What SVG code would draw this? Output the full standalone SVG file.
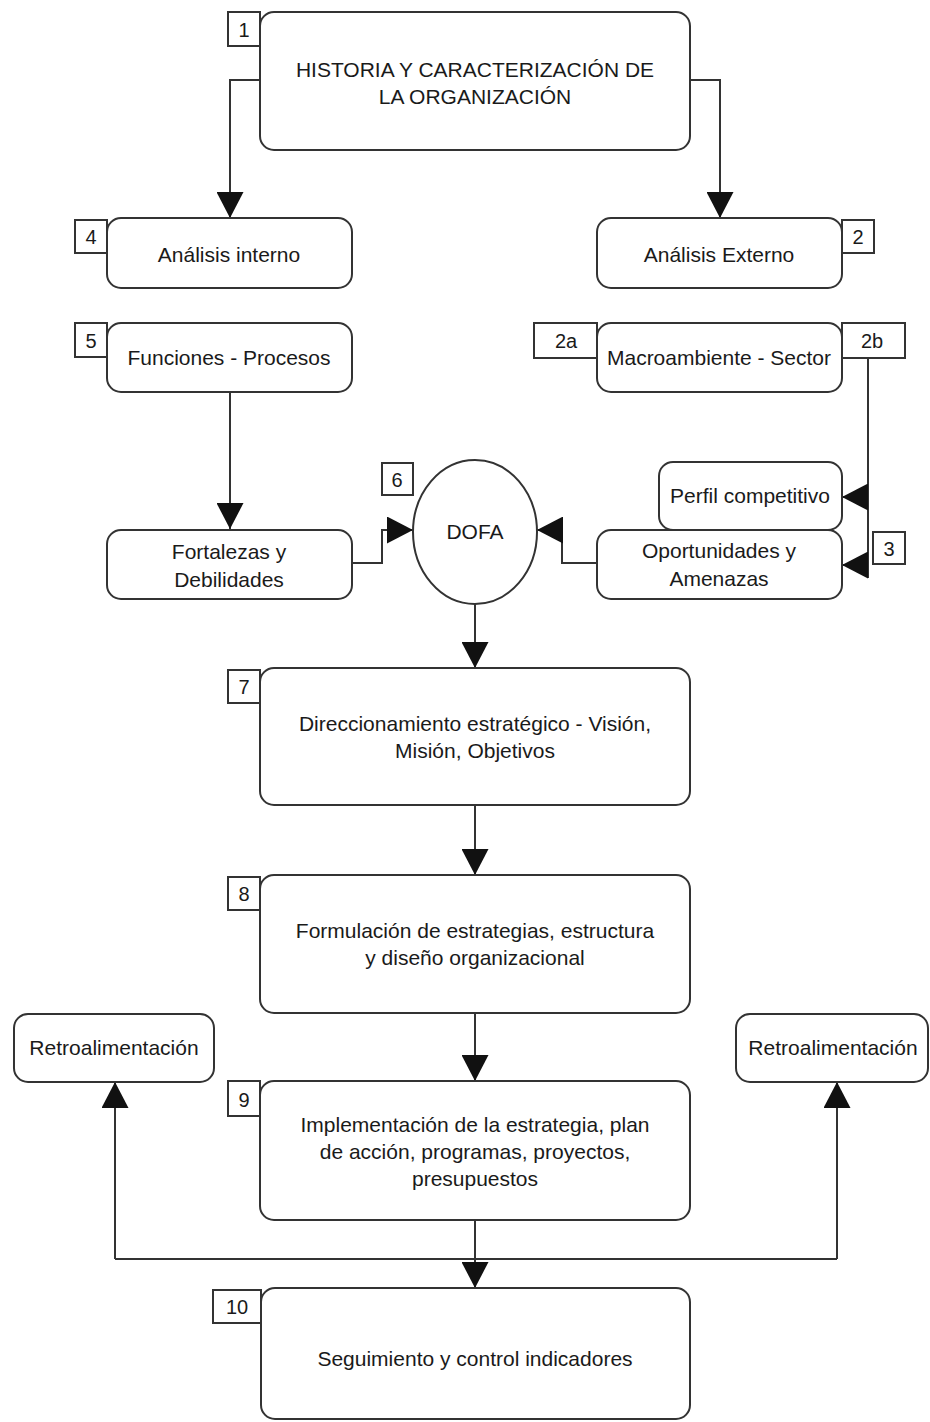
<svg xmlns="http://www.w3.org/2000/svg" width="930" height="1422" viewBox="0 0 930 1422">
  <style>
    .box { fill: #ffffff; stroke: #333333; stroke-width: 2; }
    .tag { fill: #ffffff; stroke: #333333; stroke-width: 2; }
    .txt { font-family: "Liberation Sans", Arial, sans-serif; font-size: 21px; fill: #1a1a1a; text-anchor: middle; }
    .num { font-family: "Liberation Sans", Arial, sans-serif; font-size: 20px; fill: #1a1a1a; text-anchor: middle; }
    .wire { fill: none; stroke: #333333; stroke-width: 2; }
  </style>
  <defs>
    <marker id="arrow" viewBox="0 0 26 27" refX="26" refY="13.5" markerWidth="26" markerHeight="27" markerUnits="userSpaceOnUse" orient="auto">
      <path d="M0,0 L26,13.5 L0,27 Z" fill="#111111"/>
    </marker>
  </defs>
  <rect width="930" height="1422" fill="#ffffff"/>

  <!-- connectors -->
  <g id="connectors">
    <path class="wire" d="M260,80 H230 V218" marker-end="url(#arrow)"/>
    <path class="wire" d="M690,80 H720 V218" marker-end="url(#arrow)"/>
    <path class="wire" d="M230,392 V529" marker-end="url(#arrow)"/>
    <path class="wire" d="M352,563 H382 V530 H413" marker-end="url(#arrow)"/>
    <path class="wire" d="M597,563 H562 V530 H537" marker-end="url(#arrow)"/>
    <path class="wire" d="M868,359 V578"/>
    <path class="wire" d="M868,497 H842" marker-end="url(#arrow)"/>
    <path class="wire" d="M868,565 H842" marker-end="url(#arrow)"/>
    <path class="wire" d="M475,604 V668" marker-end="url(#arrow)"/>
    <path class="wire" d="M475,805 V875" marker-end="url(#arrow)"/>
    <path class="wire" d="M475,1013 V1081" marker-end="url(#arrow)"/>
    <path class="wire" d="M475,1220 V1288" marker-end="url(#arrow)"/>
    <path class="wire" d="M115,1259 H837"/>
    <path class="wire" d="M115,1259 V1082" marker-end="url(#arrow)"/>
    <path class="wire" d="M837,1259 V1082" marker-end="url(#arrow)"/>
  </g>

  <!-- 1 -->
  <g id="node-1">
    <rect class="box" x="260" y="12" width="430" height="138" rx="14"/>
    <rect class="tag" x="228" y="12" width="32" height="34"/>
    <text class="num" x="244" y="37">1</text>
    <text class="txt" x="475" y="77">HISTORIA Y CARACTERIZACIÓN DE</text>
    <text class="txt" x="475" y="104">LA ORGANIZACIÓN</text>
  </g>

  <!-- 4 -->
  <g id="node-4">
    <rect class="box" x="107" y="218" width="245" height="70" rx="14"/>
    <rect class="tag" x="75" y="220" width="32" height="33"/>
    <text class="num" x="91" y="244">4</text>
    <text class="txt" x="229" y="262">Análisis interno</text>
  </g>

  <!-- 2 -->
  <g id="node-2">
    <rect class="box" x="597" y="218" width="245" height="70" rx="14"/>
    <rect class="tag" x="842" y="220" width="32" height="33"/>
    <text class="num" x="858" y="244">2</text>
    <text class="txt" x="719" y="262">Análisis Externo</text>
  </g>

  <!-- 5 -->
  <g id="node-5">
    <rect class="box" x="107" y="323" width="245" height="69" rx="14"/>
    <rect class="tag" x="75" y="323" width="32" height="34"/>
    <text class="num" x="91" y="348">5</text>
    <text class="txt" x="229" y="365">Funciones - Procesos</text>
  </g>

  <!-- 2a / 2b -->
  <g id="node-2a">
    <rect class="box" x="597" y="323" width="245" height="69" rx="14"/>
    <rect class="tag" x="534" y="323" width="63" height="35"/>
    <text class="num" x="566" y="348">2a</text>
    <rect class="tag" x="842" y="323" width="63" height="35"/>
    <text class="num" x="872" y="348">2b</text>
    <text class="txt" x="719" y="365">Macroambiente - Sector</text>
  </g>

  <!-- Fortalezas -->
  <g id="node-fd">
    <rect class="box" x="107" y="530" width="245" height="69" rx="14"/>
    <text class="txt" x="229" y="559">Fortalezas y</text>
    <text class="txt" x="229" y="587">Debilidades</text>
  </g>

  <!-- DOFA -->
  <g id="node-6">
    <ellipse class="box" cx="475" cy="532" rx="62" ry="72"/>
    <rect class="tag" x="382" y="463" width="31" height="32"/>
    <text class="num" x="397" y="487">6</text>
    <text class="txt" x="475" y="539">DOFA</text>
  </g>

  <!-- Perfil competitivo -->
  <g id="node-pc">
    <rect class="box" x="659" y="462" width="183" height="68" rx="14"/>
    <text class="txt" x="750" y="503">Perfil competitivo</text>
  </g>

  <!-- 3 -->
  <g id="node-3">
    <rect class="box" x="597" y="530" width="245" height="69" rx="14"/>
    <rect class="tag" x="873" y="532" width="32" height="32"/>
    <text class="num" x="889" y="556">3</text>
    <text class="txt" x="719" y="558">Oportunidades y</text>
    <text class="txt" x="719" y="586">Amenazas</text>
  </g>

  <!-- 7 -->
  <g id="node-7">
    <rect class="box" x="260" y="668" width="430" height="137" rx="14"/>
    <rect class="tag" x="228" y="670" width="32" height="33"/>
    <text class="num" x="244" y="694">7</text>
    <text class="txt" x="475" y="731">Direccionamiento estratégico - Visión,</text>
    <text class="txt" x="475" y="758">Misión, Objetivos</text>
  </g>

  <!-- 8 -->
  <g id="node-8">
    <rect class="box" x="260" y="875" width="430" height="138" rx="14"/>
    <rect class="tag" x="228" y="877" width="32" height="33"/>
    <text class="num" x="244" y="901">8</text>
    <text class="txt" x="475" y="938">Formulación de estrategias, estructura</text>
    <text class="txt" x="475" y="965">y diseño organizacional</text>
  </g>

  <!-- Retroalimentación -->
  <g id="node-retro-l">
    <rect class="box" x="14" y="1014" width="200" height="68" rx="14"/>
    <text class="txt" x="114" y="1055">Retroalimentación</text>
  </g>
  <g id="node-retro-r">
    <rect class="box" x="736" y="1014" width="192" height="68" rx="14"/>
    <text class="txt" x="833" y="1055">Retroalimentación</text>
  </g>

  <!-- 9 -->
  <g id="node-9">
    <rect class="box" x="260" y="1081" width="430" height="139" rx="14"/>
    <rect class="tag" x="228" y="1081" width="32" height="35"/>
    <text class="num" x="244" y="1107">9</text>
    <text class="txt" x="475" y="1132">Implementación de la estrategia, plan</text>
    <text class="txt" x="475" y="1159">de acción, programas, proyectos,</text>
    <text class="txt" x="475" y="1186">presupuestos</text>
  </g>

  <!-- 10 -->
  <g id="node-10">
    <rect class="box" x="261" y="1288" width="429" height="131" rx="14"/>
    <rect class="tag" x="213" y="1290" width="48" height="33"/>
    <text class="num" x="237" y="1314">10</text>
    <text class="txt" x="475" y="1366">Seguimiento y control indicadores</text>
  </g>
</svg>
